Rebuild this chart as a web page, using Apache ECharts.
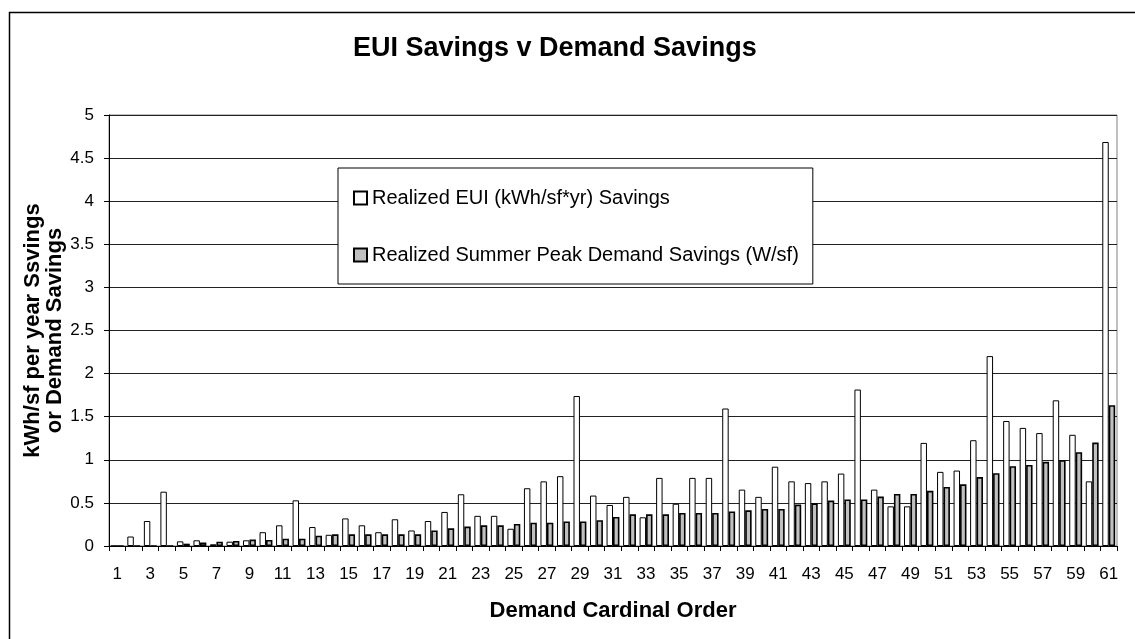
<!DOCTYPE html>
<html>
<head>
<meta charset="utf-8">
<script src="https://cdn.jsdelivr.net/npm/echarts@6/dist/echarts.min.js"></script>
<style>
html,body{margin:0;padding:0;background:#fff;}
#c{width:1135px;height:639px;}
</style>
</head>
<body>
<div id="c"></div>
<script>
const categories = ['1','2','3','4','5','6','7','8','9','10','11','12','13','14','15','16','17','18','19','20',
  '21','22','23','24','25','26','27','28','29','30','31','32','33','34','35','36','37','38','39','40',
  '41','42','43','44','45','46','47','48','49','50','51','52','53','54','55','56','57','58','59','60','61'];

const euiSavings = [0,0.11,0.29,0.63,0.054,0.066,0.02,0.05,0.066,0.16,
  0.24,0.53,0.22,0.13,0.32,0.24,0.16,0.31,0.18,0.29,
  0.395,0.60,0.35,0.35,0.20,0.67,0.75,0.81,1.74,0.585,
  0.476,0.57,0.333,0.79,0.49,0.79,0.79,1.595,0.654,0.57,
  0.92,0.75,0.73,0.75,0.84,1.815,0.654,0.46,0.46,1.196,
  0.86,0.875,1.227,2.203,1.45,1.37,1.31,1.69,1.29,0.75,4.687];

const demandSavings = [0,0,0,0,0.027,0.04,0.05,0.058,0.074,0.07,
  0.085,0.085,0.12,0.135,0.135,0.135,0.135,0.135,0.135,0.18,
  0.205,0.225,0.24,0.24,0.255,0.27,0.27,0.285,0.285,0.30,
  0.337,0.368,0.368,0.368,0.383,0.383,0.383,0.40,0.414,0.43,
  0.43,0.48,0.495,0.527,0.54,0.54,0.573,0.604,0.604,0.64,
  0.685,0.716,0.80,0.844,0.925,0.94,0.976,0.995,1.088,1.20,1.634];

const seriesNames = ['Realized EUI (kWh/sf*yr) Savings', 'Realized Summer Peak Demand Savings (W/sf)'];
const titleText = 'EUI Savings v Demand Savings';
const xName = 'Demand Cardinal Order';
const yName = 'kWh/sf per year Ssvings\nor Demand Savings';

const FONT = "'Liberation Sans', Arial, sans-serif";
const chart = echarts.init(document.getElementById('c'), null, {renderer: 'canvas'});
chart.setOption({
  animation: false,
  backgroundColor: '#fff',
  textStyle: {fontFamily: FONT, color: '#000'},
  title: {
    text: titleText,
    left: 353, top: 35, padding: 0,
    textStyle: {fontFamily: FONT, fontSize: 27, fontWeight: 'bold', color: '#000', lineHeight: 27}
  },
  graphic: [{
    type: 'rect', left: 7, top: 10, silent: true, z: -1,
    shape: {width: 1140, height: 640},
    style: {fill: 'none', stroke: '#000', lineWidth: 1.5}
  }],
  legend: {
    orient: 'vertical',
    left: 338, top: 168,
    padding: [20, 14, 19, 15],
    itemGap: 37,
    itemWidth: 13, itemHeight: 13,
    icon: 'rect',
    borderColor: '#000', borderWidth: 1,
    backgroundColor: '#fff',
    textStyle: {fontFamily: FONT, fontSize: 20, color: '#000', lineHeight: 20},
    data: seriesNames
  },
  grid: {
    left: 109, right: 18, top: 115, bottom: 93,
    show: true, borderColor: '#808080', borderWidth: 1, backgroundColor: '#fff'
  },
  xAxis: {
    type: 'category',
    data: categories,
    boundaryGap: true,
    name: xName,
    nameLocation: 'middle',
    nameGap: 54,
    nameMoveOverlap: false,
    nameTextStyle: {fontFamily: FONT, fontSize: 22, fontWeight: 'bold', color: '#000'},
    axisLine: {lineStyle: {color: '#000', width: 1}},
    axisTick: {show: true, interval: 0, length: 5, lineStyle: {color: '#000'}},
    axisLabel: {interval: 1, margin: 20, fontFamily: FONT, fontSize: 17, color: '#000'},
    splitLine: {show: false}
  },
  yAxis: {
    type: 'value',
    min: 0, max: 5, interval: 0.5,
    name: yName,
    nameLocation: 'middle',
    nameRotate: 90,
    nameGap: 65,
    nameMoveOverlap: false,
    nameTextStyle: {fontFamily: FONT, fontSize: 22, fontWeight: 'bold', color: '#000', lineHeight: 22, verticalAlign: 'middle'},
    axisLine: {show: true, lineStyle: {color: '#000', width: 1}},
    axisTick: {show: true, length: 5, lineStyle: {color: '#000'}},
    axisLabel: {margin: 15, fontFamily: FONT, fontSize: 17, color: '#000'},
    splitLine: {show: true, lineStyle: {color: '#222', width: 1}}
  },
  series: [
    {
      name: seriesNames[0], type: 'bar', data: euiSavings,
      barCategoryGap: '22%', barGap: '0%',
      itemStyle: {color: '#fff', borderColor: '#000', borderWidth: 1}
    },
    {
      name: seriesNames[1], type: 'bar', data: demandSavings,
      barCategoryGap: '22%', barGap: '0%',
      itemStyle: {color: '#c0c0c0', borderColor: '#000', borderWidth: 1.6}
    }
  ]
});
</script>
</body>
</html>
